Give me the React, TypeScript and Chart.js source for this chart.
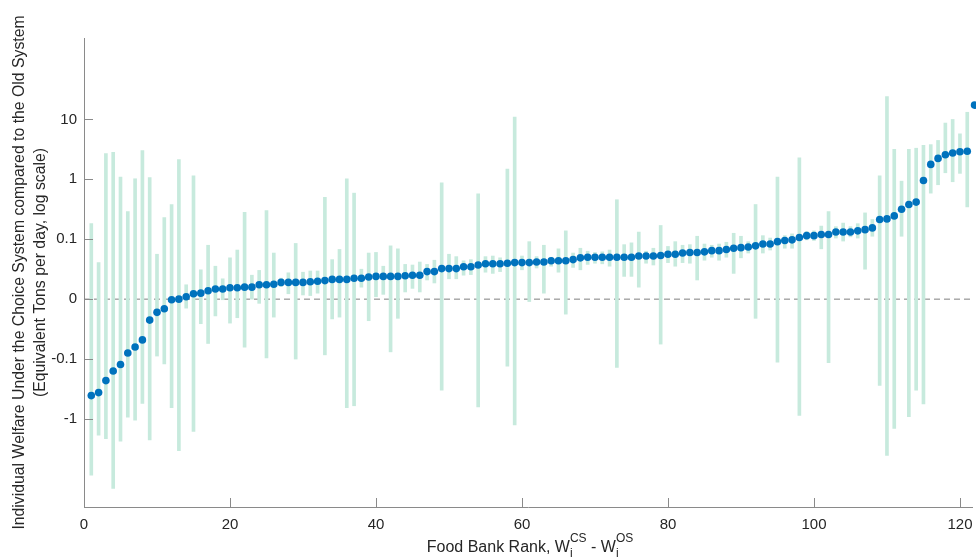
import React, { useEffect, useRef } from 'react';
import { Chart, registerables } from 'chart.js';

Chart.register(...registerables);

// Food bank ranks (x categories)
const ranks: number[] = Array.from({ length: 122 }, (_, i) => i + 1);

// Welfare difference, in axis (log-scale) units: tick positions below map to labels
const welfare: number[] = [
  -1.61, -1.56, -1.36, -1.20, -1.09, -0.90, -0.80, -0.68, -0.35, -0.22,
  -0.16, -0.01, 0.00, 0.04, 0.09, 0.10, 0.14, 0.17, 0.17, 0.19,
  0.19, 0.20, 0.20, 0.24, 0.24, 0.25, 0.28, 0.28, 0.28, 0.28,
  0.29, 0.30, 0.31, 0.33, 0.33, 0.33, 0.35, 0.35, 0.37, 0.38,
  0.38, 0.38, 0.38, 0.39, 0.40, 0.40, 0.46, 0.46, 0.51, 0.51,
  0.51, 0.54, 0.54, 0.57, 0.59, 0.59, 0.59, 0.60, 0.61, 0.61,
  0.61, 0.62, 0.62, 0.64, 0.64, 0.64, 0.66, 0.69, 0.70, 0.70,
  0.70, 0.70, 0.70, 0.70, 0.70, 0.72, 0.72, 0.72, 0.73, 0.75,
  0.75, 0.77, 0.78, 0.78, 0.79, 0.81, 0.81, 0.83, 0.85, 0.86,
  0.87, 0.89, 0.92, 0.92, 0.96, 0.98, 0.99, 1.03, 1.06, 1.06,
  1.08, 1.08, 1.12, 1.12, 1.12, 1.14, 1.16, 1.19, 1.33, 1.34,
  1.39, 1.50, 1.58, 1.62, 1.98, 2.25, 2.35, 2.41, 2.44, 2.46,
  2.47, 3.24,
];

// Upper end of each interval (axis units)
const ciHigh: number[] = [
  1.26, 0.61, 2.43, 2.45, 2.04, 1.46, 2.01, 2.48, 2.03, 0.75,
  1.36, 1.58, 2.33, 0.24, 2.06, 0.49, 0.90, 0.55, 0.34, 0.69,
  0.82, 1.45, 0.40, 0.48, 1.48, 0.77, 0.35, 0.44, 0.93, 0.45,
  0.47, 0.47, 1.70, 0.66, 0.83, 2.01, 1.77, 0.50, 0.77, 0.78,
  0.55, 0.89, 0.84, 0.58, 0.57, 0.62, 0.58, 0.65, 1.94, 0.75,
  0.71, 0.64, 0.66, 1.76, 0.71, 0.72, 0.69, 2.17, 3.04, 0.72,
  0.96, 0.71, 0.90, 0.70, 0.84, 1.14, 0.77, 0.85, 0.80, 0.78,
  0.79, 0.82, 1.66, 0.91, 0.94, 1.12, 0.80, 0.85, 1.23, 0.88,
  0.96, 0.90, 0.91, 1.05, 0.92, 0.90, 0.92, 0.95, 1.10, 1.05,
  0.96, 1.58, 1.06, 1.02, 2.04, 1.06, 1.09, 2.36, 1.13, 1.14,
  1.22, 1.46, 1.21, 1.27, 1.21, 1.26, 1.44, 1.33, 2.06, 3.38,
  2.50, 1.97, 2.50, 2.52, 2.57, 2.58, 2.65, 2.94, 3.00, 2.76,
  3.12, 3.66,
];

// Lower end of each interval (axis units)
const ciLow: number[] = [
  -2.94, -2.27, -2.33, -3.16, -2.37, -1.97, -2.02, -1.74, -2.35, -0.95,
  -1.08, -1.81, -2.53, -0.15, -2.21, -0.41, -0.74, -0.28, -0.01, -0.40,
  -0.31, -0.80, 0.00, -0.07, -0.98, -0.30, 0.21, 0.09, -1.00, 0.07,
  0.06, 0.10, -0.93, -0.33, -0.30, -1.81, -1.78, 0.20, -0.36, 0.04,
  0.08, -0.88, -0.32, 0.12, 0.18, 0.12, 0.32, 0.27, -1.52, 0.34,
  0.34, 0.40, 0.41, -1.80, 0.45, 0.43, 0.46, -1.12, -2.10, 0.49,
  -0.04, 0.52, 0.10, 0.55, 0.45, -0.25, 0.53, 0.49, 0.58, 0.60,
  0.59, 0.55, -1.14, 0.38, 0.38, 0.20, 0.60, 0.57, -0.75, 0.61,
  0.55, 0.61, 0.60, 0.32, 0.65, 0.70, 0.65, 0.70, 0.43, 0.69,
  0.77, -0.32, 0.77, 0.82, -1.05, 0.85, 0.85, -1.94, 0.99, 0.98,
  0.84, -1.06, 1.02, 0.97, 1.04, 1.02, 0.50, 1.05, -1.44, -2.61,
  -2.16, 1.05, -1.96, -1.52, -1.75, 1.77, 1.91, 2.11, 1.96, 2.10,
  1.54, 2.61,
];

const yTickPositions: number[] = [-2, -1, 0, 1, 2, 3];
const yTickLabels: string[] = ['-1', '-0.1', '0', '0.1', '1', '10'];
const xTickValues: number[] = [0, 20, 40, 60, 80, 100, 120];

const X_MIN = 0;
const X_MAX = 121.65;
const Y_MIN = -3.47;
const Y_MAX = 4.36;

const FONT = '"Liberation Sans", Arial, Helvetica, sans-serif';
const AXIS_COLOR = '#8a8a8a';
const TEXT_COLOR = '#262626';

const decorPlugin = {
  id: 'decor',
  afterDraw(chart: any) {
    const { ctx, chartArea } = chart;
    const xs = chart.scales.x;
    const ys = chart.scales.y;
    ctx.save();
    // inward tick marks
    ctx.strokeStyle = AXIS_COLOR;
    ctx.lineWidth = 1;
    ctx.beginPath();
    yTickPositions.forEach((v) => {
      const py = Math.round(ys.getPixelForValue(v)) + 0.5;
      ctx.moveTo(chartArea.left, py);
      ctx.lineTo(chartArea.left + 9, py);
    });
    xTickValues.forEach((v) => {
      const px = Math.round(xs.getPixelForValue(v)) + 0.5;
      ctx.moveTo(px, chartArea.bottom);
      ctx.lineTo(px, chartArea.bottom - 9);
    });
    ctx.stroke();

    // y title (two lines, rotated)
    ctx.fillStyle = TEXT_COLOR;
    const cy = (chartArea.top + chartArea.bottom) / 2;
    ctx.font = `15.8px ${FONT}`;
    ctx.textAlign = 'center';
    ctx.textBaseline = 'middle';
    ctx.save();
    ctx.translate(19.5, cy);
    ctx.rotate(-Math.PI / 2);
    ctx.fillText('Individual Welfare Under the Choice System compared to the Old System', 0, 0);
    ctx.restore();
    ctx.save();
    ctx.translate(41, cy);
    ctx.rotate(-Math.PI / 2);
    ctx.fillText('(Equivalent Tons per day, log scale)', 0, 0);
    ctx.restore();

    // x title with sub/superscripts
    const mainFont = `16px ${FONT}`;
    const smallFont = `12px ${FONT}`;
    const parts: { text: string; sub: string; sup: string }[] = [
      { text: 'Food Bank Rank, W', sub: 'i', sup: 'CS' },
      { text: ' - W', sub: 'i', sup: 'OS' },
    ];
    let total = 0;
    const widths = parts.map((p) => {
      ctx.font = mainFont;
      const w1 = ctx.measureText(p.text).width;
      ctx.font = smallFont;
      const w2 = Math.max(ctx.measureText(p.sub).width, ctx.measureText(p.sup).width);
      total += w1 + w2;
      return [w1, w2];
    });
    const baseY = 552;
    let x = (chartArea.left + 976) / 2 - total / 2;
    ctx.textAlign = 'left';
    ctx.textBaseline = 'alphabetic';
    parts.forEach((p, i) => {
      ctx.font = mainFont;
      ctx.fillText(p.text, x, baseY);
      x += widths[i][0];
      ctx.font = smallFont;
      ctx.fillText(p.sup, x, baseY - 10);
      ctx.fillText(p.sub, x, baseY + 5);
      x += widths[i][1];
    });
    ctx.restore();
  },
};

export default function App() {
  const canvasRef = useRef<HTMLCanvasElement | null>(null);

  useEffect(() => {
    if (!canvasRef.current) return;
    const chart = new Chart(canvasRef.current, {
      type: 'bar',
      data: {
        datasets: [
          {
            type: 'scatter',
            data: ranks.map((r, i) => ({ x: r, y: welfare[i] })),
            backgroundColor: '#0072BD',
            borderColor: '#0072BD',
            borderWidth: 0,
            pointRadius: 3.8,
            order: 0,
            clip: false,
          } as any,
          {
            type: 'bar',
            data: ranks.map((r, i) => ({ x: r, y: [ciLow[i], ciHigh[i]] })),
            backgroundColor: 'rgb(199,234,221)',
            borderWidth: 0,
            barThickness: 3,
            grouped: false,
            order: 1,
          } as any,
          {
            type: 'line',
            data: [
              { x: X_MIN, y: 0 },
              { x: X_MAX, y: 0 },
            ],
            borderColor: '#7f7f7f',
            borderWidth: 1,
            borderDash: [6, 4],
            pointRadius: 0,
            order: 2,
          } as any,
        ],
      },
      options: {
        animation: false,
        responsive: false,
        maintainAspectRatio: false,
        layout: { padding: { top: 38, left: 0, right: 0, bottom: 0 } },
        plugins: {
          legend: { display: false },
          tooltip: { enabled: false },
          title: { display: false },
        },
        scales: {
          x: {
            type: 'linear',
            min: X_MIN,
            max: X_MAX,
            offset: false,
            grid: { display: false, drawTicks: false },
            border: { display: true, color: AXIS_COLOR, width: 1 },
            afterBuildTicks: (scale: any) => {
              scale.ticks = xTickValues.map((v) => ({ value: v }));
            },
            afterFit: (scale: any) => {
              scale.height = 52;
              scale.paddingLeft = 0;
              scale.paddingRight = 0;
            },
            ticks: {
              autoSkip: false,
              maxRotation: 0,
              padding: 9,
              color: TEXT_COLOR,
              font: { family: FONT, size: 15 },
              callback: (v: any) => String(v),
            },
          },
          y: {
            type: 'linear',
            min: Y_MIN,
            max: Y_MAX,
            grid: { display: false, drawTicks: false },
            border: { display: true, color: AXIS_COLOR, width: 1 },
            afterBuildTicks: (scale: any) => {
              scale.ticks = yTickPositions.map((v) => ({ value: v }));
            },
            afterFit: (scale: any) => {
              scale.width = 84;
              scale.paddingTop = 0;
              scale.paddingBottom = 0;
            },
            ticks: {
              autoSkip: false,
              padding: 7,
              color: TEXT_COLOR,
              font: { family: FONT, size: 15 },
              callback: (v: any) => {
                const idx = yTickPositions.indexOf(Number(v));
                return idx >= 0 ? yTickLabels[idx] : '';
              },
            },
          },
        },
      },
      plugins: [decorPlugin],
    } as any);
    return () => chart.destroy();
  }, []);

  return (
    <div style={{ position: 'absolute', left: 0, top: 0, width: 976, height: 559, background: '#fff' }}>
      <canvas ref={canvasRef} width={976} height={559} style={{ width: 976, height: 559, display: 'block' }} />
    </div>
  );
}
